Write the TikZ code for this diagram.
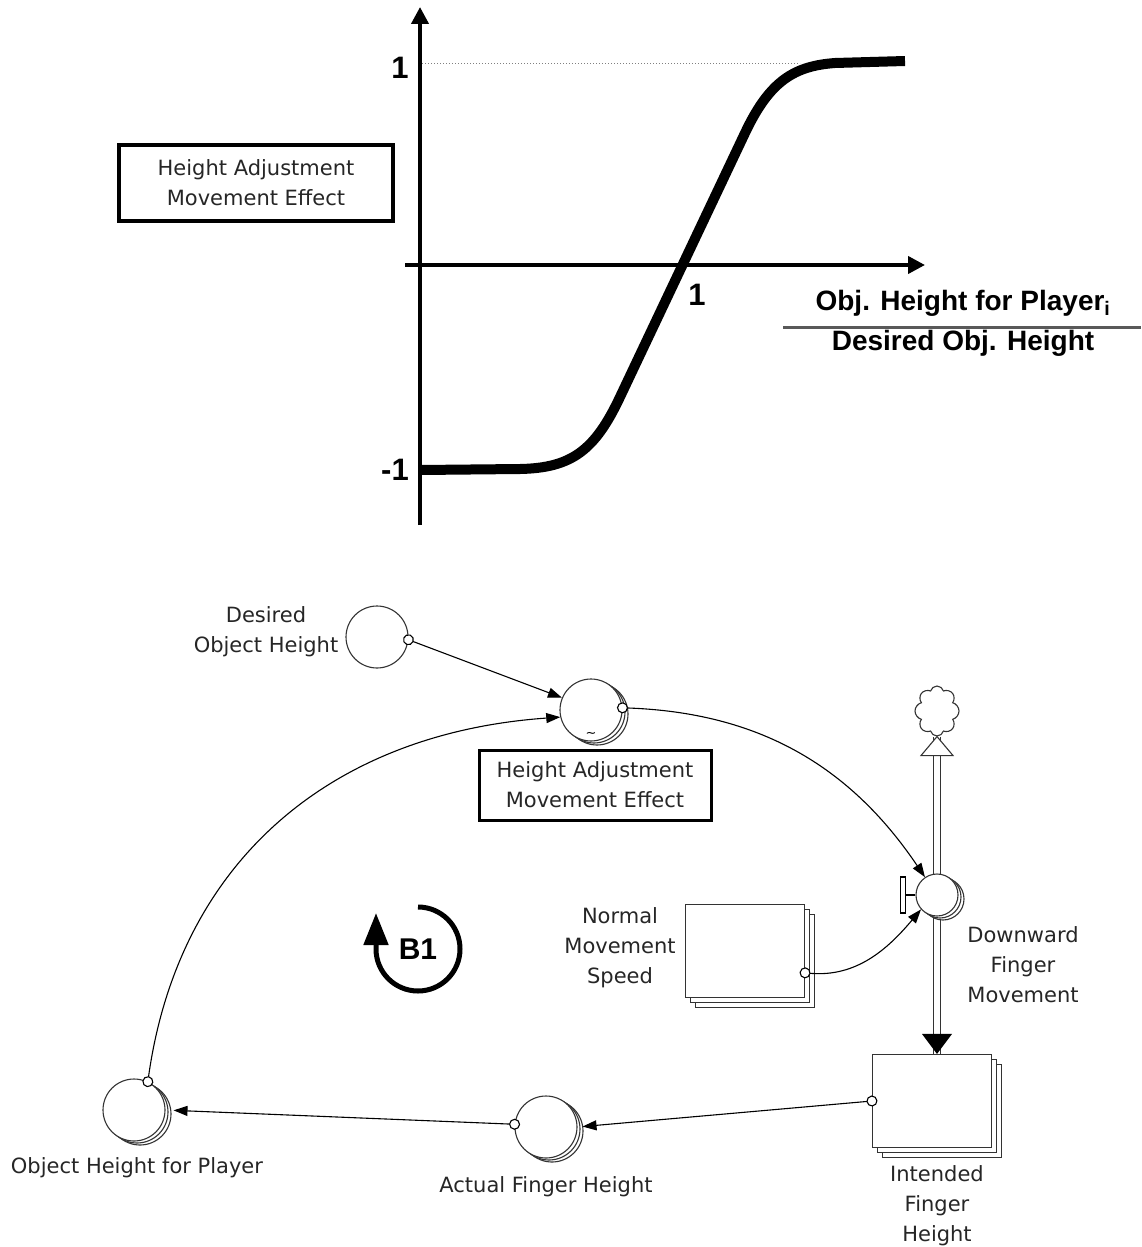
\documentclass[tikz,border=0pt]{standalone}
\usepackage{fontspec}
\setmainfont{DejaVu Sans}
\newfontfamily\headfont{Liberation Sans}
\usetikzlibrary{arrows.meta,shapes.symbols,shadows}

\begin{document}
\begin{tikzpicture}[x=1pt,y=1pt,
  axis/.style={line width=4pt,-{Triangle[length=17pt,width=17pt]}},
  num/.style={font=\headfont\bfseries\fontsize{31}{31}\selectfont, inner sep=0pt, anchor=base},
  frac/.style={font=\headfont\bfseries\fontsize{28}{30}\selectfont, inner sep=0pt, anchor=base},
  lbl/.style={font=\fontsize{21}{30}\selectfont, align=center, inner sep=0pt, text=black!85},
  tablebox/.style={lbl, draw, line width=3.5pt, minimum width=274pt, minimum height=76pt},
  aux/.style={circle, draw=black!80, line width=1.1pt, fill=white, minimum size=62pt, inner sep=0pt},
  stack/.style={double copy shadow={shadow xshift=3pt, shadow yshift=-2pt}},
  level/.style={rectangle, draw=black!80, line width=1.1pt, fill=white, minimum width=119pt, minimum height=93pt, inner sep=0pt, double copy shadow={shadow xshift=5pt, shadow yshift=-5pt}},
  link/.style={line width=1.1pt, {Circle[open,fill=white,length=11pt,width=11pt]}-{Triangle[length=14pt,width=10pt]}, shorten <=-5.5pt},
  pipe/.style={draw=black!80, double=white, double distance=6pt, line width=1.2pt}]
\useasboundingbox (0,0) rectangle (1141,-1247);

\node[tablebox] (title) at (256,-183) {Height Adjustment\\Movement Effect};
\coordinate (ylow) at (420,-525);
\coordinate (yhigh) at (420,-7);
\coordinate (xlow) at (405,-265);
\coordinate (xhigh) at (925,-265);
\draw[axis] (ylow) -- (yhigh);
\draw[axis] (xlow) -- (xhigh);
\draw[gray, dotted, line width=1pt] (422,-64) -- (800,-64);
\node[num] (ytop) at (400,-78) {1};
\node[num] (ybot) at (395,-480) {-1};
\node[num] (xone) at (697,-305) {1};
\draw[line width=10pt, line join=round] (420,-470) -- (520,-469) .. controls (572,-468) and (595,-450) .. (620,-397) -- (745,-133) .. controls (770,-80) and (795,-66) .. (835,-63) -- (905,-61);
\node[frac] (numer) at (963,-310) {Obj. Height for Player\textsubscript{i}};
\draw[line width=3pt, black!65] (783,-327) -- (1141,-327);
\node[frac] (denom) at (963,-350) {Desired Obj. Height};

\node[aux] (desired) at (377,-637) {};
\node[lbl] (desiredlbl) at (266,-632) {Desired\\Object Height};
\node[aux,stack] (effect) at (591,-710) {};
\node[font=\fontsize{13}{13}\selectfont, inner sep=0pt] (lookup) at (591,-735) {\textasciitilde};
\node[tablebox, line width=3pt, minimum width=232pt, minimum height=70pt] (effectbox) at (595,-785) {Height Adjustment\\Movement Effect};
\node[cloud, cloud puffs=8, aspect=0.9, draw=black!80, line width=1.1pt, minimum width=44pt, minimum height=50pt, inner sep=0pt] (sink) at (937,-711) {};
\node[level] (normal) at (745,-951) {};
\node[lbl] (normallbl) at (620,-948) {Normal\\Movement\\Speed};
\node[level] (intended) at (932,-1101) {};
\node[lbl] (intendedlbl) at (937,-1206) {Intended\\Finger\\Height};
\draw[pipe] (sink.south) -- (sink.south |- intended.north);
\draw[fill=white, line width=1.1pt, draw=black!80] (sink.south) -- ++(16,-19) -- ++(-32,0) -- cycle;
\fill (sink.south |- intended.north) -- ++(-15,20) -- ++(30,0) -- cycle;
\node[circle, draw=black!80, fill=white, line width=1.1pt, minimum size=42pt, inner sep=0pt, stack] (valve) at (937,-895) {};
\draw[line width=1.1pt] (valve.west) -- ++(-10,0);
\draw[fill=white, line width=1.1pt] ([xshift=-10pt]valve.west) ++(0,18) rectangle ++(-5,-36);
\node[lbl] (valvelbl) at (1023,-965) {Downward\\Finger\\Movement};
\node[aux,stack] (actual) at (546,-1127) {};
\node[lbl] (actuallbl) at (546,-1187) {Actual Finger Height};
\node[aux,stack] (player) at (134,-1110) {};
\node[lbl] (playerlbl) at (137,-1168) {Object Height for Player};
\node[font=\headfont\bfseries\fontsize{30}{30}\selectfont, inner sep=0pt] (loop) at (418,-949) {B1};
\draw[line width=5pt, -{Triangle[length=32pt,width=24pt]}] ([yshift=42pt]loop.center) arc[start angle=90, end angle=-180, radius=42pt] -- ++(0,36);

\draw[link] (desired.-5) -- (effect.157);
\draw[link] (effect.4) to[out=-2,in=124] (valve.124);
\draw[link] (normal.-20) to[out=-5,in=230] (valve.222);
\draw[link, shorten >=5pt] (intended.west) -- (actual.east);
\draw[link, shorten >=8pt] (actual.175) -- (player.east);
\draw[link] (player.64) to[out=82,in=184,looseness=1.05] (effect.193);
\end{tikzpicture}
\end{document}
